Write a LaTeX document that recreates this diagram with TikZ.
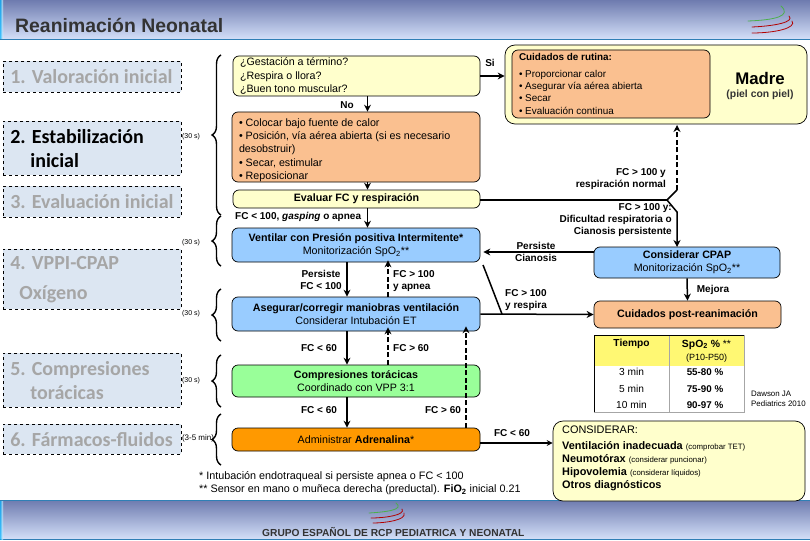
\documentclass[tikz,border=0pt]{standalone}
\usepackage{fontspec}
\setmainfont{Liberation Sans}
\newfontfamily\calibrifont{Carlito}
\usepackage{xcolor}
\usetikzlibrary{decorations.pathreplacing, arrows.meta}
\definecolor{paleyellow}{HTML}{FFFFCC}
\definecolor{paleorange}{HTML}{FAC090}
\definecolor{paleblue}{HTML}{99CCFF}
\definecolor{palegreen}{HTML}{99FF99}
\definecolor{darkorange}{HTML}{FF9900}
\definecolor{stepfill}{HTML}{DCE6F2}
\definecolor{stepgray}{HTML}{A6A6A6}
\definecolor{bandtop}{HTML}{6E7BAF}
\definecolor{bandlow}{HTML}{D3DFF8}
\definecolor{bandline}{HTML}{2F7FB5}
\tikzset{
  flowbox/.style={draw, line width=0.7pt, rounded corners=6, inner sep=0pt, font=\fontsize{10.7}{13.4}\selectfont},
  stepbox/.style={draw, dashed, line width=0.7pt, fill=stepfill, anchor=north west, inner sep=0pt, text width=178, align=flush left, font=\calibrifont\bfseries\fontsize{20}{24}\selectfont},
  lab/.style={inner sep=0pt, font=\bfseries\fontsize{10}{12.6}\selectfont},
  note/.style={inner sep=0pt, font=\fontsize{7}{10}\selectfont},
  thickarrow/.style={line width=1.5pt, -{Stealth[length=7pt,width=7pt]}},
  dasharrow/.style={line width=1.5pt, dash pattern=on 5pt off 2.5pt, -{Stealth[length=7pt,width=7pt]}},
  curlybrace/.style={line width=1.4pt, decorate, decoration={brace, amplitude=9pt}},
  swoosh/.style={line width=0.8pt, line cap=round}
}
\begin{document}
\begin{tikzpicture}[x=1pt, y=-1pt]
  \useasboundingbox (0,0) rectangle (810,540);
  % header and footer bands
  \shade[top color=bandtop, bottom color=bandlow] (0,0) rectangle (810,39);
  \fill[bandline] (0,39) rectangle (810,40.5);
  \shade[top color=bandtop, bottom color=bandlow] (0,500) rectangle (810,539);
  \fill[bandline] (0,500) rectangle (810,501);
  \fill[bandline] (0,539) rectangle (810,540);
  \shade[left color=cyan!70!blue, right color=cyan!70!blue!0, opacity=0.7] (0,0) rectangle (3,39);
  \shade[left color=cyan!70!blue, right color=cyan!70!blue!0, opacity=0.7] (0,501) rectangle (3,539);
  \node[anchor=west, inner sep=0pt, font=\bfseries\fontsize{19.4}{21}\selectfont, text=black!80] (titulo) at (15,25) {Reanimación Neonatal};
  \node[anchor=west, inner sep=0pt, font=\bfseries\fontsize{10.2}{12}\selectfont, text=black!80] (grupo) at (262,532) {GRUPO ESPAÑOL DE RCP PEDIATRICA Y NEONATAL};
  % logos
  \draw[swoosh, black!45!green!70] (748,21) .. controls (775,20) and (792,16) .. (781,6);
  \draw[swoosh, red!70!black] (752,27) .. controls (775,26) and (795,22) .. (789,16);
  \draw[swoosh, red!70!black] (752,33) .. controls (775,33) and (797,28) .. (792,21);
  \draw[swoosh, black!45!green!70] (369,513) .. controls (385,512) and (405,510) .. (396,503);
  \draw[swoosh, red!70!black] (371,518) .. controls (385,518) and (406,515) .. (402,509);
  \draw[swoosh, red!70!black] (373,523) .. controls (385,523) and (407,520) .. (404,513);
  % times, under the step boxes
  \node[note] (t1) at (191,137) {(30 s)};
  \node[note] (t2) at (191,243) {(30 s)};
  \node[note] (t3) at (191,314) {(30 s)};
  \node[note] (t4) at (191,381) {(30 s)};
  \node[note, font=\fontsize{8}{10}\selectfont] (t5) at (198,438) {(3-5 min)};
  % steps on the left
  \node[stepbox, minimum width=178, minimum height=31, text=stepgray] (paso1) at (3,61) {\hspace*{7pt}1. Valoración inicial};
  \node[stepbox, minimum width=178, minimum height=54] (paso2) at (3,121) {\hspace*{7pt}2. Estabilización\\\hspace*{27pt}inicial};
  \node[stepbox, minimum width=178, minimum height=31, text=stepgray] (paso3) at (3,186) {\hspace*{7pt}3. Evaluación inicial};
  \node[stepbox, minimum width=178, minimum height=60, text=stepgray, font=\calibrifont\bfseries\fontsize{20}{30}\selectfont] (paso4) at (3,249) {\hspace*{7pt}4. VPPI-CPAP\\\hspace*{16pt}Oxígeno};
  \node[stepbox, minimum width=178, minimum height=54, text=stepgray] (paso5) at (3,353) {\hspace*{7pt}5. Compresiones\\\hspace*{27pt}torácicas};
  \node[stepbox, minimum width=178, minimum height=30, text=stepgray] (paso6) at (3,424) {\hspace*{7pt}6. Fármacos-fluidos};
  % braces
  \draw[curlybrace] (221,215) -- (221,55);
  \draw[curlybrace] (221,266) -- (221,216);
  \draw[curlybrace] (221,341) -- (221,289);
  \draw[curlybrace] (221,407) -- (221,355);
  \draw[curlybrace] (221,465) -- (221,414);
  % flow boxes
  \node[flowbox, fill=paleyellow, minimum width=247, minimum height=40, text width=233, align=flush left] (pregunta) at (356.5,76) {¿Gestación a término?\\¿Respira o llora?\\¿Buen tono muscular?};
  \node[flowbox, fill=paleorange, minimum width=248, minimum height=70, text width=234, align=flush left] (estabilizar) at (356,147) {\rule{0pt}{14pt}• Colocar bajo fuente de calor\\• Posición, vía aérea abierta (si es necesario\\desobstruir)\\• Secar, estimular\\• Reposicionar};
  \node[flowbox, fill=paleyellow, minimum width=247, minimum height=18] (evaluar) at (356.5,199) {\bfseries Evaluar FC y respiración};
  \node[flowbox, fill=paleblue, minimum width=248, minimum height=34, align=center] (ventilar) at (356,245) {\textbf{Ventilar con Presión positiva Intermitente*}\\Monitorización SpO\textsubscript{2}**};
  \node[flowbox, fill=paleblue, minimum width=248, minimum height=34, align=center] (asegurar) at (356,314) {\textbf{Asegurar/corregir maniobras ventilación}\\Considerar Intubación ET};
  \node[flowbox, fill=palegreen, minimum width=248, minimum height=32, align=center] (compresiones) at (356,381) {\textbf{Compresiones torácicas}\\Coordinado con VPP 3:1};
  \node[flowbox, fill=darkorange, minimum width=248, minimum height=23] (adrenalina) at (356,439.5) {Administrar \textbf{Adrenalina}*};
  \node[flowbox, rounded corners=10, fill=paleyellow, minimum width=302, minimum height=79] (madre) at (656,84.5) {};
  \node[flowbox, fill=paleorange, minimum width=198, minimum height=68, text width=184, align=flush left, font=\fontsize{9.9}{12.3}\selectfont] (rutina) at (611,84) {\textbf{Cuidados de rutina:}\\[4pt]• Proporcionar calor\\• Asegurar vía aérea abierta\\• Secar\\• Evaluación continua};
  \node[inner sep=0pt, font=\bfseries\fontsize{16.8}{18}\selectfont] (madretxt) at (760,78) {Madre};
  \node[inner sep=0pt, font=\bfseries\fontsize{10.4}{12}\selectfont, text=black!80] (pieltxt) at (760,95) {(piel con piel)};
  \node[flowbox, fill=paleblue, minimum width=186, minimum height=31, align=center] (cpap) at (687,262.5) {\textbf{Considerar CPAP}\\Monitorización SpO\textsubscript{2}**};
  \node[flowbox, fill=paleorange, minimum width=187, minimum height=27] (post) at (687.5,314.5) {\bfseries Cuidados post-reanimación};
  \node[flowbox, rounded corners=10, fill=paleyellow, minimum width=252, minimum height=80] (considerar) at (679,461) {};
  \node[anchor=north west, inner sep=0pt, align=flush left, font=\fontsize{10.9}{13.2}\selectfont] (considerartxt) at (562,426) {CONSIDERAR:\\[2pt]\textbf{Ventilación inadecuada} {\fontsize{7.8}{8}\selectfont (comprobar TET)}\\\textbf{Neumotórax} {\fontsize{7.8}{8}\selectfont (considerar puncionar)}\\\textbf{Hipovolemia} {\fontsize{7.8}{8}\selectfont (considerar líquidos)}\\\textbf{Otros diagnósticos}};
  % table
  \fill[yellow!55] (594,335) rectangle (744,366);
  \draw[black!35, line width=0.8pt] (744,335) -- (744,412) -- (594,412);
  \draw[black!35, line width=0.8pt] (669,335) -- (669,412);
  \draw[line width=1pt] (594,412) -- (594,335) -- (744,335);
  \node[lab, font=\bfseries\fontsize{10.2}{12}\selectfont] (tiempo) at (631.5,344) {Tiempo};
  \node[lab, align=center, font=\fontsize{9}{13}\selectfont] (spo) at (706.5,351) {{\fontsize{10.4}{12}\selectfont\textbf{SpO\textsubscript{2} \%} **}\\(P10-P50)};
  \foreach \tname/\tmin/\tsat/\ty in {a/3 min/55-80 \%/372, b/5 min/75-90 \%/389, c/10 min/90-97 \%/405} {
    \node[lab, font=\fontsize{10.2}{12}\selectfont] (min\tname) at (631.5,\ty) {\tmin};
    \node[lab, font=\bfseries\fontsize{9.8}{12}\selectfont] (sat\tname) at (705,\ty) {\tsat};
  }
  % solid connectors
  \draw[thickarrow] (pregunta.east |- 0,76) -- (madre.west |- 0,76);
  \draw[thickarrow] ([xshift=11pt]pregunta.south) -- ([xshift=11.5pt]estabilizar.north);
  \draw[thickarrow] ([xshift=11.5pt]estabilizar.south) -- ([xshift=11pt]evaluar.north);
  \draw[thickarrow] ([xshift=11pt]evaluar.south) -- ([xshift=11.5pt]ventilar.north);
  \draw[thickarrow] ([xshift=-9pt]ventilar.south) -- ([xshift=-9pt]asegurar.north);
  \draw[thickarrow] ([xshift=-9pt]asegurar.south) -- ([xshift=-9pt]compresiones.north);
  \draw[thickarrow] ([xshift=-9pt]compresiones.south) -- ([xshift=-9pt]adrenalina.north);
  \draw[thickarrow] (asegurar.east) -- (post.west);
  \draw[line width=1.2pt, -{Stealth[length=6pt,width=6pt]}] (adrenalina.east |- 0,443) -- (considerar.west |- 0,443);
  \draw[thickarrow] (cpap.south) -- (post.north);
  \draw[thickarrow] (cpap.west |- 0,252) -- ([xshift=3pt]ventilar.east |- 0,252);
  \coordinate (cruce) at (667,200);
  \coordinate (ramal) at (502,314);
  \draw[line width=1.5pt] (evaluar.east |- cruce) -- (cruce);
  \draw[line width=1.5pt] (483,265) .. controls (485,270) .. (ramal);
  \draw[thickarrow] (cruce) -- (677,212) -- (677,247);
  % dashed connectors
  \draw[line width=1.5pt] (cruce) -- (677,190);
  \draw[dasharrow] (677,190) -- (677,125);
  \draw[dasharrow] ([xshift=32pt]asegurar.north) -- ([xshift=32pt,yshift=2pt]ventilar.south);
  \draw[dasharrow] ([xshift=32pt]compresiones.north) -- ([xshift=32pt,yshift=4pt]asegurar.south);
  \draw[dasharrow] ([xshift=110pt]adrenalina.north) -- ([xshift=110pt,yshift=5pt]asegurar.south);
  % connector labels
  \node[lab] (si) at (490,63) {Si};
  \node[lab] (no) at (347,105) {No};
  \node[lab, anchor=west] (gasping) at (235,217) {FC < 100, \textit{gasping} o apnea};
  \node[lab, align=center] (persiste) at (321,280) {Persiste\\FC < 100};
  \node[lab, anchor=west, align=flush left] (apnea) at (393,281) {FC > 100\\y apnea};
  \node[lab] (fc1) at (319,348) {FC < 60};
  \node[lab, anchor=west] (fc2) at (393,348) {FC > 60};
  \node[lab] (fc3) at (319,410) {FC < 60};
  \node[lab] (fc4) at (443,410) {FC > 60};
  \node[lab] (fc5) at (512,433) {FC < 60};
  \node[lab, anchor=west, align=flush left] (respira) at (505,300) {FC > 100\\y respira};
  \node[lab, align=center] (cianosis) at (536,252) {Persiste\\Cianosis};
  \node[lab, anchor=east, align=flush right] (normal) at (666,179) {FC > 100 y\\respiración normal};
  \node[lab, anchor=east, align=flush right, font=\bfseries\fontsize{10}{12.2}\selectfont] (dificultad) at (672,220) {FC > 100 y:\\Dificultad respiratoria o\\Cianosis persistente};
  \node[lab] (mejora) at (713,290) {Mejora};
  \node[anchor=west, align=flush left, inner sep=0pt, font=\fontsize{7.9}{10.2}\selectfont] (dawson) at (751,399) {Dawson JA\\Pediatrics 2010};
  % footnotes
  \node[anchor=west, inner sep=0pt, font=\fontsize{10.8}{12}\selectfont] (nota1) at (199,477) {* Intubación endotraqueal si persiste apnea o FC < 100};
  \node[anchor=west, inner sep=0pt, font=\fontsize{10.8}{12}\selectfont] (nota2) at (199,490) {** Sensor en mano o muñeca derecha (preductal). \textbf{FiO\textsubscript{2}} inicial 0.21};
\end{tikzpicture}
\end{document}
